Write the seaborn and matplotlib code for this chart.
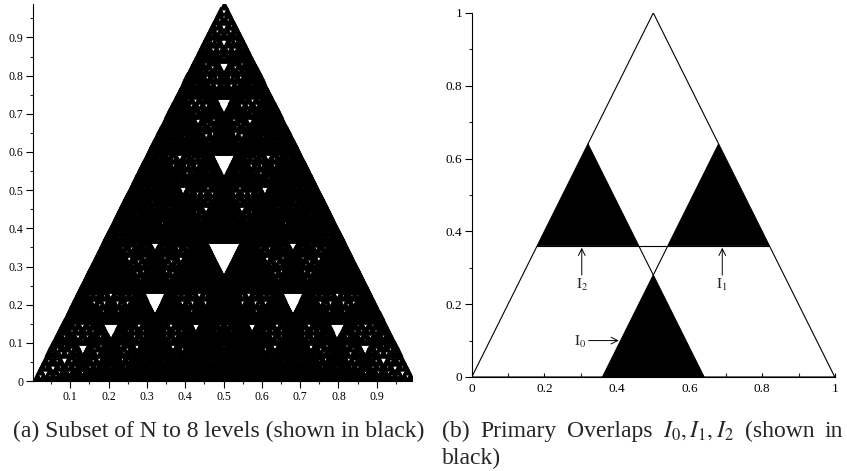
import numpy as np
import pandas as pd
import seaborn as sns
import matplotlib.pyplot as plt
from matplotlib.ticker import MultipleLocator, FuncFormatter

# IFS for the set N: three maps p -> R*p + offset
RATIO = 0.64
LEVELS = 8
OFFSET_X = [0.0, 0.36, 0.18]
OFFSET_Y = [0.0, 0.0, 0.36]

# panel (b): outer triangle and the three overlaps
OUTER_X = [0.0, 0.5, 1.0, 0.0]
OUTER_Y = [0.0, 1.0, 0.0, 0.0]
EDGE_T0_X = [0.64, 0.32]
EDGE_T0_Y = [0.0, 0.64]
EDGE_T1_X = [0.36, 0.68]
EDGE_T1_Y = [0.0, 0.64]
BASE_T2_X = [0.18, 0.82]
BASE_T2_Y = [0.36, 0.36]
I0_X = [0.36, 0.64, 0.5]
I0_Y = [0.0, 0.0, 0.28]
I1_X = [0.54, 0.82, 0.68]
I1_Y = [0.36, 0.36, 0.64]
I2_X = [0.18, 0.46, 0.32]
I2_Y = [0.36, 0.36, 0.64]

CAPTION_A = "(a) Subset of N to 8 levels (shown in black)"
# caption (b) is justified between two edges, so words are placed one by one
CAPTION_B_WORDS = ["(b)", "Primary", "Overlaps", r"$I_0, I_1, I_2$", "(shown", "in"]
CAPTION_B_LINE2 = "black)"


def tick_fmt(v, pos):
    if abs(v) < 1e-9:
        return "0"
    if abs(v - 1) < 1e-9:
        return "1"
    return f"{v:.1f}"


sns.set_theme(style="ticks")
plt.rcParams["font.family"] = ["Liberation Serif", "DejaVu Serif"]
plt.rcParams["mathtext.fontset"] = "stix"

fig = plt.figure(figsize=(8.47, 4.71), dpi=100)
ax1 = fig.add_axes([0.039, 0.191, 0.4475, 0.800])
ax2 = fig.add_axes([0.557, 0.1996, 0.4286, 0.773])

# ---- (a) level-8 triangles of N ----
corners = np.zeros((1, 2))
for _ in range(LEVELS):
    corners = np.concatenate(
        [RATIO * corners + np.array([ox, oy]) for ox, oy in zip(OFFSET_X, OFFSET_Y)]
    )
side = RATIO ** LEVELS
pts = pd.DataFrame({"x": corners[:, 0] + side / 2, "y": corners[:, 1] + side / 2})

x_lim = (0.003, 0.992)
y_lim = (0.0, 0.987)
ax_w_px = 0.4475 * 847
px_per_unit = ax_w_px / (x_lim[1] - x_lim[0])
marker_pt = side * px_per_unit * 72 / 100 * 0.92
sns.scatterplot(data=pts, x="x", y="y", ax=ax1, marker="^", s=marker_pt ** 2,
                color="black", linewidth=0, legend=False)
ax1.set_xlim(*x_lim)
ax1.set_ylim(*y_lim)
ax1.xaxis.set_major_locator(MultipleLocator(0.1))
ax1.xaxis.set_minor_locator(MultipleLocator(0.05))
ax1.yaxis.set_major_locator(MultipleLocator(0.1))
ax1.yaxis.set_minor_locator(MultipleLocator(0.05))
ax1.xaxis.set_major_formatter(FuncFormatter(tick_fmt))
ax1.yaxis.set_major_formatter(FuncFormatter(tick_fmt))
ax1.tick_params(which="major", direction="out", length=5, width=0.8, labelsize=8.5, pad=2)
ax1.tick_params(which="minor", direction="out", length=2.5, width=0.8)
ax1.set_xlabel("")
ax1.set_ylabel("")

# ---- (b) primary overlaps ----
for xs, ys in [(OUTER_X, OUTER_Y), (EDGE_T0_X, EDGE_T0_Y),
               (EDGE_T1_X, EDGE_T1_Y), (BASE_T2_X, BASE_T2_Y)]:
    sns.lineplot(x=xs, y=ys, ax=ax2, sort=False, estimator=None,
                 color="black", linewidth=0.8)
for xs, ys in [(I0_X, I0_Y), (I1_X, I1_Y), (I2_X, I2_Y)]:
    ax2.fill(xs, ys, color="black", linewidth=0)

arrow = dict(arrowstyle="->", color="black", lw=0.7, shrinkA=0, shrinkB=0)
ax2.annotate("", xy=(0.303, 0.355), xytext=(0.303, 0.28), arrowprops=arrow)
ax2.text(0.303, 0.252, r"$\mathrm{I}_2$", ha="center", va="center", fontsize=11)
ax2.annotate("", xy=(0.69, 0.355), xytext=(0.69, 0.28), arrowprops=arrow)
ax2.text(0.69, 0.252, r"$\mathrm{I}_1$", ha="center", va="center", fontsize=11)
ax2.annotate("", xy=(0.405, 0.10), xytext=(0.322, 0.10), arrowprops=arrow)
ax2.text(0.298, 0.096, r"$\mathrm{I}_0$", ha="center", va="center", fontsize=11)

ax2.set_xlim(0, 1)
ax2.set_ylim(0, 1)
ax2.xaxis.set_major_locator(MultipleLocator(0.2))
ax2.xaxis.set_minor_locator(MultipleLocator(0.1))
ax2.yaxis.set_major_locator(MultipleLocator(0.2))
ax2.yaxis.set_minor_locator(MultipleLocator(0.1))
ax2.xaxis.set_major_formatter(FuncFormatter(tick_fmt))
ax2.yaxis.set_major_formatter(FuncFormatter(tick_fmt))
ax2.tick_params(axis="x", which="both", direction="in", length=3, width=0.8,
                labelsize=9.5, pad=4)
ax2.tick_params(axis="y", which="major", direction="out", length=5, width=0.8,
                labelsize=9.5, pad=2)
ax2.tick_params(axis="y", which="minor", direction="out", length=2.5, width=0.8)
ax2.set_xlabel("")
ax2.set_ylabel("")

for ax in (ax1, ax2):
    sns.despine(ax=ax)
    for sp in ("left", "bottom"):
        ax.spines[sp].set_linewidth(0.8)
        ax.spines[sp].set_color("black")
    ax.tick_params(colors="black")

# captions
cap_size = 17
fig.text(13 / 847, 1 - 437 / 471, CAPTION_A,
         ha="left", va="baseline", fontsize=cap_size)

# justify the first line of caption (b) between x=442 and x=843 px
left_px, right_px = 442, 843
words = [fig.text(left_px / 847, 1 - 437 / 471, w, ha="left", va="baseline",
                  fontsize=cap_size) for w in CAPTION_B_WORDS]
renderer = fig.canvas.get_renderer()
widths = [t.get_window_extent(renderer).width for t in words]
gap = (right_px - left_px - sum(widths)) / (len(words) - 1)
x = left_px
for t, w in zip(words, widths):
    t.set_x(x / 847)
    x += w + gap
fig.text(left_px / 847, 1 - 464 / 471, CAPTION_B_LINE2,
         ha="left", va="baseline", fontsize=cap_size)

fig.savefig("out.png", dpi=100)
